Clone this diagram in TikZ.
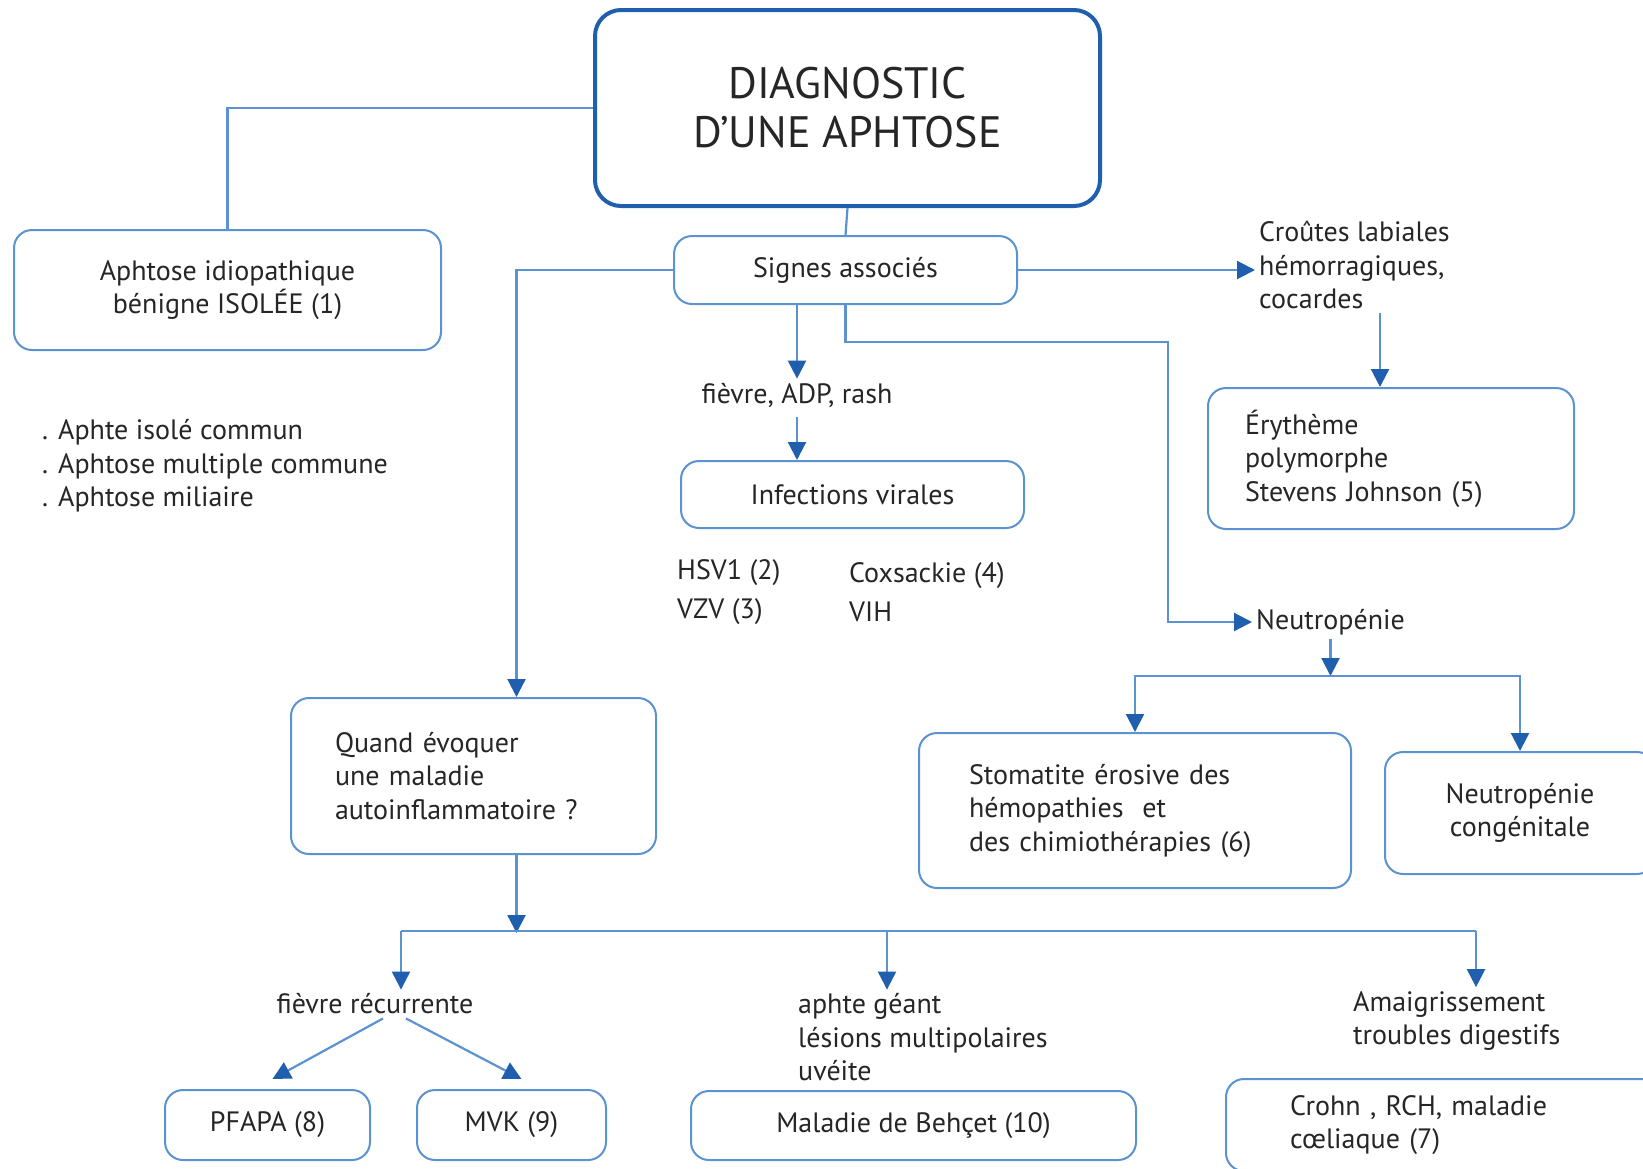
\documentclass[tikz,border=0pt]{standalone}
\usepackage{fontspec}
\setmainfont{PT Sans}
\usetikzlibrary{arrows.meta,calc}
\definecolor{dgblue}{HTML}{1F5FAD}
\definecolor{dglight}{HTML}{5B92D0}
\definecolor{dgtext}{HTML}{262626}
\newcommand{\dgfont}{\fontsize{28pt}{33.5pt}\selectfont}
\newcommand{\dgwide}{\fontsize{28pt}{39pt}\selectfont}
\newcommand{\dgtitlefont}{\fontsize{44pt}{49pt}\selectfont}

\begin{document}
\begin{tikzpicture}[x=1pt, y=-1pt,
  every node/.style={font=\dgfont, text=dgtext},
  box/.style={draw=dglight, line width=2pt, rounded corners=18pt, inner sep=0pt, align=center},
  freetext/.style={inner sep=4pt, align=left},
  link/.style={draw=dglight, line width=2.2pt},
  arr/.style={link, -{Triangle[length=18pt, width=18pt, color=dgblue]}}]

  % ---- Frame ----
  \clip (0,0) rectangle (1643,1168);
  \fill[white] (0,0) rectangle (1643,1168);

  % ---- Top ----
  \node[box, draw=dgblue, line width=4pt, rounded corners=26pt, font=\dgtitlefont,
    minimum width=505pt, minimum height=196pt] (titre) at (847.5,108) {DIAGNOSTIC\\D’UNE APHTOSE};
  \node[box, minimum width=427pt, minimum height=120pt] (idio) at (227.5,290)
    {Aphtose idiopathique\\bénigne ISOLÉE (1)};
  \node[freetext, anchor=west] (formes) at (38,466)
    {. Aphte isolé commun\\. Aphtose multiple commune\\. Aphtose miliaire};
  \node[box, minimum width=343pt, minimum height=68pt] (signes) at (845.5,270) {Signes associés};

  % ---- Right branch ----
  \node[freetext, anchor=west] (croutes) at (1255,265) {Croûtes labiales\\hémorragiques,\\cocardes};
  \node[box, text width=292pt, align=left, minimum width=366pt, minimum height=141pt] (erytheme)
    at (1391,458.5) {Érythème\\polymorphe\\Stevens Johnson (5)};
  \node[freetext, anchor=west] (neutro) at (1252,622) {Neutropénie};
  \node[box, text width=332pt, align=left, minimum width=432pt, minimum height=155pt] (stomatite)
    at (1135,810.5) {Stomatite érosive des\\hémopathies\ \ et\\des chimiothérapies (6)};
  \node[box, minimum width=270pt, minimum height=122pt] (congen) at (1520,813) {Neutropénie\\congénitale};

  % ---- Middle ----
  \node[freetext, align=center] (fadp) at (797,395) {fièvre, ADP, rash};
  \node[box, minimum width=343pt, minimum height=67pt] (viral) at (852.5,494.5) {Infections virales};
  \node[freetext, anchor=west, inner sep=0pt, font=\dgwide] (herpes) at (677,592) {HSV1 (2)\\VZV (3)};
  \node[freetext, anchor=west, inner sep=0pt, font=\dgwide] (coxs) at (849,592) {Coxsackie (4)\\VIH};

  % ---- Left and bottom ----
  \node[box, text width=277pt, align=left, minimum width=365pt, minimum height=156pt] (quand)
    at (473.5,776) {Quand évoquer\\une maladie\\autoinflammatoire ?};
  \node[freetext, align=center] (recur) at (375,1004) {fièvre récurrente};
  \node[freetext, anchor=west] (behcsig) at (794,1037.5) {aphte géant\\lésions multipolaires\\uvéite};
  \node[freetext, anchor=west] (digest) at (1349,1021) {Amaigrissement\\troubles digestifs};
  \node[box, minimum width=205pt, minimum height=70pt] (pfapa) at (267.5,1125) {PFAPA (8)};
  \node[box, minimum width=189pt, minimum height=70pt] (mvk) at (511.5,1125) {MVK (9)};
  \node[box, minimum width=445pt, minimum height=69pt] (behcet) at (913.5,1125.5) {Maladie de Behçet (10)};
  \node[box, text width=312pt, align=left, minimum width=440pt, minimum height=92pt] (crohn)
    at (1446,1125) {Crohn , RCH, maladie\\cœliaque (7)};

  % ---- Connectors ----
  \draw[link] (titre.south) -- (signes.north);
  \draw[link] (titre.west) -| (idio.north);
  \draw[arr] (signes.west) -| ($(quand.north)+(43,0)$);
  \draw[arr] (signes.east) -- (signes.east -| croutes.west);
  \coordinate (eryin) at ($(erytheme.north)+(-11,0)$);
  \draw[arr] (croutes.south -| eryin) -- (eryin);
  \draw[arr] (signes.south -| fadp.north) -- (fadp.north);
  \draw[arr, shorten <=6pt] (fadp.south) -- (fadp.south |- viral.north);
  \coordinate (coude) at (1168,342);
  \draw[arr] (signes.south) |- (coude) |- (neutro.west);
  \coordinate (nsplit) at (1334,676);
  \draw[arr] (neutro.south) -- (neutro.south |- nsplit);
  \draw[arr] (neutro.south |- nsplit) -| (stomatite.north);
  \draw[arr] (neutro.south |- nsplit) -| (congen.north);

  % ---- Autoinflammatory branch ----
  \coordinate (qsplit) at ($(quand.south)+(43,78)$);
  \draw[arr] ($(quand.south)+(43,0)$) -- (qsplit);
  \coordinate (brA) at (401,931);
  \coordinate (brB) at (887,931);
  \coordinate (brC) at (1476,931);
  \draw[link] (brA) -- (brC);
  \draw[arr] (brA) -- (brA |- recur.north);
  \draw[arr] (brB) -- (brB |- behcsig.north);
  \draw[arr] (brC) -- (brC |- digest.north);
  \draw[arr] ($(recur.south)+(8,0)$) -- ($(pfapa.north)+(5,-10)$);
  \draw[arr] ($(recur.south)+(31,0)$) -- ($(mvk.north)+(10,-10)$);

\end{tikzpicture}
\end{document}
